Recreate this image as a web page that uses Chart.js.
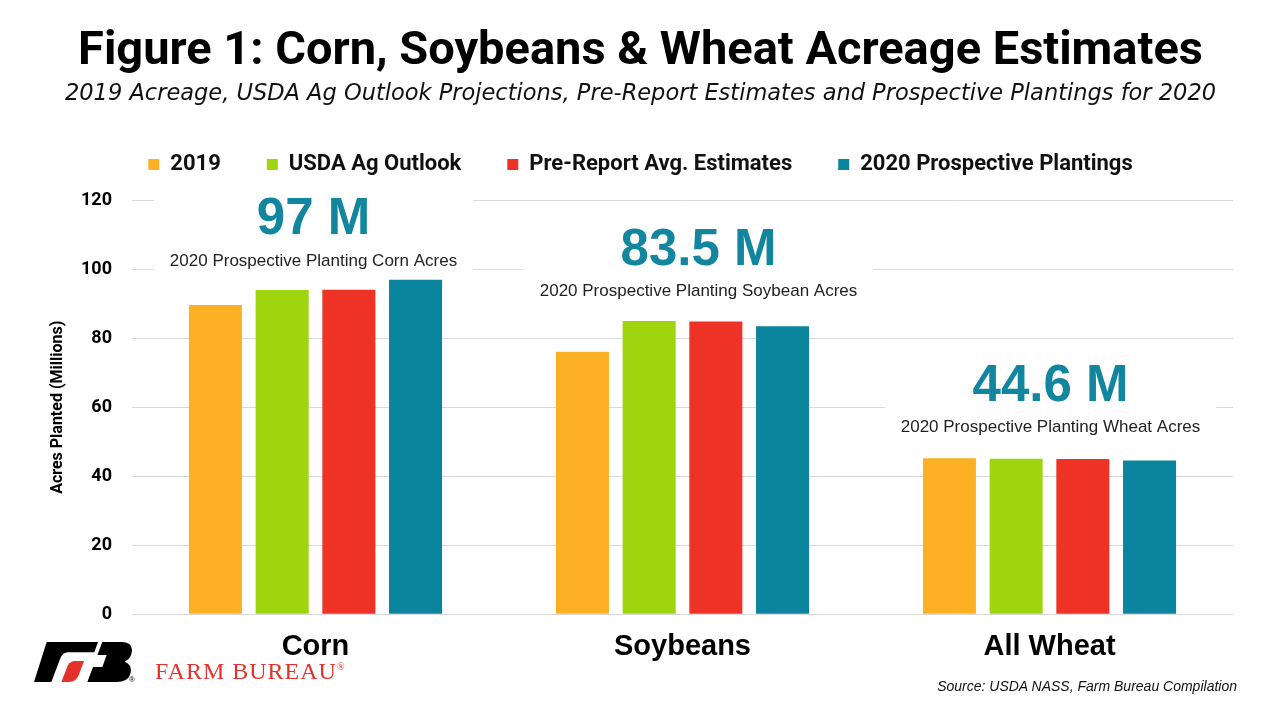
<!DOCTYPE html>
<html>
<head>
<meta charset="utf-8">
<script src="https://cdn.jsdelivr.net/npm/chart.js@4.4.1/dist/chart.umd.min.js"></script>
<style>
  html, body { margin: 0; padding: 0; background: #fff; }
  #wrap { position: relative; width: 1280px; height: 720px; }
  #logo { position: absolute; left: 34px; top: 640px; width: 100px; height: 44px; }
  #reg { position: absolute; left: 129px; top: 675px; font: 8px "Liberation Sans", Arial, sans-serif; color: #000; }
  #fbname { position: absolute; left: 155px; top: 658px; font: 24px "Liberation Serif", "DejaVu Serif", serif; color: #e4322b; letter-spacing: 1px; }
  #fbname sup { font-size: 10px; vertical-align: 9px; letter-spacing: 0; }
  #source { position: absolute; right: 43px; top: 678px; font: italic 14px "Liberation Sans", Arial, sans-serif; color: #111; }
</style>
</head>
<body>
<div id="wrap">
  <canvas id="acreChart" width="1280" height="720"></canvas>
  <svg id="logo" viewBox="0 0 300 130">
    <path d="M38,5 L192,5 L181,36 L102,36 Q86,36 79,54 L52,125 L0,125 Z" fill="#000"/>
    <path d="M82,125 L101,76 Q108,62 124,62 L150,62 L134,105 Q126,125 106,125 Z" fill="#e4322b"/>
    <path d="M205,5 L262,5 Q302,5 292,42 Q287,58 272,64 Q298,74 288,104 Q280,125 248,125 L160,125 L177,80 L205,80 L218,44 L190,44 Z" fill="#000"/>
  </svg>
  <div id="reg">®</div>
  <div id="fbname">FARM BUREAU<sup>®</sup></div>
  <div id="source">Source: USDA NASS, Farm Bureau Compilation</div>
</div>
<script>
// categories and series (millions of acres)
const categories = ['Corn', 'Soybeans', 'All Wheat'];
const acres2019 = [89.7, 76.1, 45.2];
const usdaOutlook = [94.0, 85.0, 45.1];
const preReport = [94.1, 84.9, 45.0];
const prospective2020 = [97.0, 83.5, 44.6];

// callout text above each group
const calloutBig = ['97 M', '83.5 M', '44.6 M'];
const calloutSub = [
    '2020 Prospective Planting Corn Acres',
    '2020 Prospective Planting Soybean Acres',
    '2020 Prospective Planting Wheat Acres'
];
const calloutLevel = [114.3, 105.4, 66.0];   // axis value where the big number sits
const calloutShift = [-2, 16, 1];

const orange = '#fcb024';
const green = '#9ed50f';
const red = '#ee3226';
const teal = '#0b849f';

// white boxes + callout text, drawn over the gridlines but under the bars
const calloutPlugin = {
    id: 'callouts',
    beforeDatasetsDraw(chart) {
        const { ctx, scales: { x, y } } = chart;
        categories.forEach((c, i) => {
            const cx = x.getPixelForValue(i) + calloutShift[i];
            const bigY = y.getPixelForValue(calloutLevel[i]);
            const subY = bigY + 41;
            ctx.save();
            ctx.font = '17px "Liberation Sans", Arial, sans-serif';
            const w = ctx.measureText(calloutSub[i]).width + 32;
            ctx.fillStyle = '#fff';
            ctx.fillRect(cx - w / 2, bigY - 30, w, subY - bigY + 46);
            ctx.textAlign = 'center';
            ctx.textBaseline = 'middle';
            ctx.fillStyle = '#222';
            ctx.fillText(calloutSub[i], cx, subY);
            ctx.font = 'bold 51px "Liberation Sans", Arial, sans-serif';
            ctx.fillStyle = '#12869f';
            ctx.fillText(calloutBig[i], cx, bigY);
            ctx.restore();
        });
    }
};

// a bit more room between the legend and the plot
const legendGap = {
    id: 'legendGap',
    beforeInit(chart) {
        const fit = chart.legend.fit;
        chart.legend.fit = function () {
            fit.bind(chart.legend)();
            this.height += 15;
        };
    }
};

const acreData = {
    labels: categories,
    datasets: [
        { label: '2019', data: acres2019, backgroundColor: orange },
        { label: 'USDA Ag Outlook', data: usdaOutlook, backgroundColor: green },
        { label: 'Pre-Report Avg. Estimates', data: preReport, backgroundColor: red },
        { label: '2020 Prospective Plantings', data: prospective2020, backgroundColor: teal }
    ]
};

const acreConfig = {
    type: 'bar',
    data: acreData,
    plugins: [calloutPlugin, legendGap],
    options: {
        responsive: false,
        animation: false,
        datasets: {
            bar: { categoryPercentage: 0.727, barPercentage: 0.795 }
        },
        layout: {
            padding: { top: 24, left: 48, right: 47, bottom: 41 }
        },
        plugins: {
            title: {
                display: true,
                text: 'Figure 1: Corn, Soybeans & Wheat Acreage Estimates',
                color: '#000',
                font: { family: 'Roboto', weight: 'bold', size: 47 },
                padding: { top: 0, bottom: 0 }
            },
            subtitle: {
                display: true,
                text: '2019 Acreage, USDA Ag Outlook Projections, Pre-Report Estimates and Prospective Plantings for 2020',
                color: '#111',
                font: { family: '"DejaVu Sans"', style: 'italic', size: 22.5 },
                padding: { top: 0, bottom: 0 }
            },
            legend: {
                labels: {
                    boxWidth: 11,
                    boxHeight: 11,
                    padding: 46,
                    color: '#111',
                    font: { family: 'Roboto', weight: 'bold', size: 22 }
                }
            },
            tooltip: { enabled: false }
        },
        scales: {
            x: {
                grid: { display: false, drawTicks: false },
                border: { display: false },
                ticks: {
                    color: '#000',
                    padding: 15,
                    font: { family: '"Liberation Sans", Arial', weight: 'bold', size: 29 }
                }
            },
            y: {
                min: 0,
                max: 120,
                afterFit(scale) { scale.width = 84; },
                grid: { color: '#d9d9d9', drawTicks: false },
                border: { display: false },
                ticks: {
                    stepSize: 20,
                    padding: 20,
                    color: '#000',
                    font: { family: 'Roboto', weight: 'bold', size: 18 }
                },
                title: {
                    display: true,
                    text: 'Acres Planted (Millions)',
                    color: '#000',
                    padding: { top: 0, bottom: 0 },
                    font: { family: 'Roboto', weight: 'bold', size: 16 }
                }
            }
        }
    }
};

new Chart(document.getElementById('acreChart'), acreConfig);
</script>
</body>
</html>
